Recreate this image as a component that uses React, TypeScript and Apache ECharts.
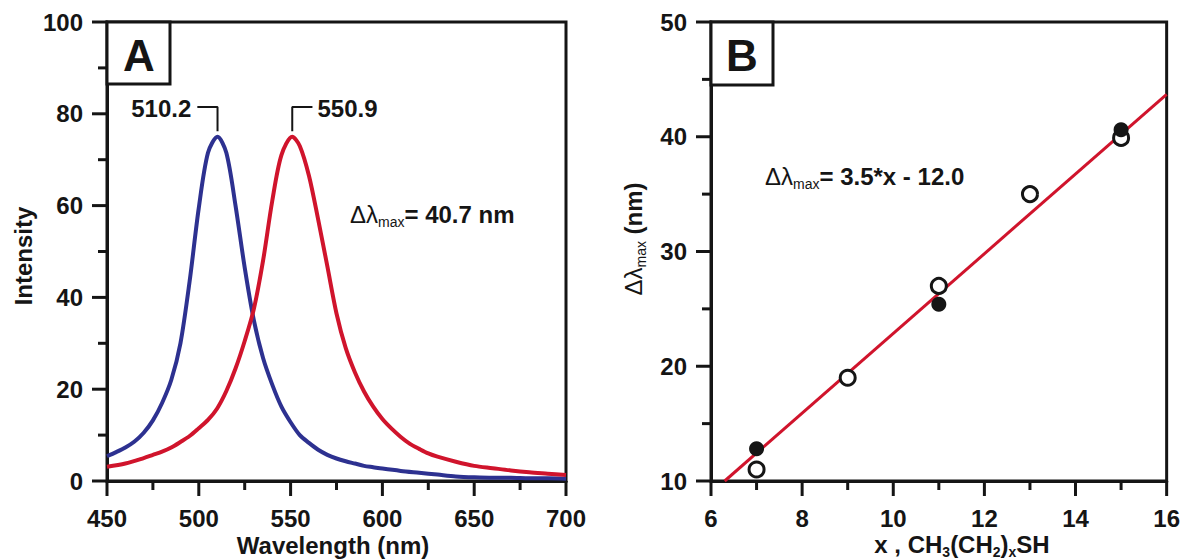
import React, { useEffect, useRef } from "react";
import * as echarts from "echarts";

// Panel A: extinction spectra
const wavelengthBlue = [450, 455, 460, 465, 470, 475, 480, 485, 490, 495, 500, 505, 510.2, 515, 520, 525, 530, 535, 540, 545, 550, 555, 560, 565, 570, 575, 580, 585, 590, 595, 600, 610, 620, 630, 640, 650, 660, 670, 680, 690, 700];
const intensityBlue = [5.4, 6.3, 7.3, 8.6, 10.5, 13.2, 17.0, 22.0, 30.0, 43.5, 59.5, 71.5, 75.0, 71.5, 60.0, 46.5, 35.0, 26.8, 21.0, 16.2, 12.8, 10.0, 8.3, 6.8, 5.7, 4.9, 4.3, 3.8, 3.3, 3.0, 2.7, 2.2, 1.8, 1.4, 1.0, 0.8, 0.7, 0.7, 0.6, 0.6, 0.5];
const wavelengthRed = [450, 460, 470, 475, 480, 485, 490, 495, 500, 505, 510, 515, 520, 525, 530, 535, 540, 545, 550.9, 555, 560, 565, 570, 575, 580, 585, 590, 595, 600, 605, 610, 615, 620, 625, 630, 640, 650, 660, 670, 680, 690, 700];
const intensityRed = [3.1, 3.8, 5.0, 5.7, 6.4, 7.3, 8.5, 9.8, 11.5, 13.3, 15.8, 19.6, 24.5, 30.5, 37.5, 48, 61, 71, 75, 73, 66.5, 57, 46.8, 36.5, 29, 23.7, 19.5, 16.2, 13.5, 11.4, 9.6, 8.1, 7.0, 6.0, 5.3, 4.2, 3.3, 2.8, 2.3, 1.9, 1.6, 1.3];
const peakWavelengths = [510.2, 550.9];
const peakIntensities = [75, 75];
const peakLabels = ["510.2", "550.9"];
const majorTicksAX = [450, 500, 550, 600, 650, 700];
const minorTicksAX = [475, 525, 575, 625, 675];
const majorTicksAY = [0, 20, 40, 60, 80, 100];
const minorTicksAY = [10, 30, 50, 70, 90];

// Panel B: shift vs chain length
const openX = [7, 9, 11, 13, 15];
const openY = [11.0, 19.0, 27.0, 35.0, 39.9];
const filledX = [7, 11, 15];
const filledY = [12.8, 25.4, 40.6];
const fitX = [6.3, 16];
const fitY = [10.0, 43.7];
const majorTicksBX = [6, 8, 10, 12, 14, 16];
const minorTicksBX = [7, 9, 11, 13, 15];
const majorTicksBY = [10, 20, 30, 40, 50];
const minorTicksBY = [15, 25, 35, 45];

const FONT = '"Liberation Sans", Arial, Helvetica, sans-serif';
const INK = "#151515";
const BLUE = "#2d3190";
const RED = "#d0142c";
const MAJOR_LEN = 15;
const MINOR_LEN = 9;

const pairs = (xs: number[], ys: number[]) => xs.map((x, i) => [x, ys[i]]);

const axisCommon = (margin: number, ticks: number[]) => ({
  type: "value",
  min: ticks[0],
  max: ticks[ticks.length - 1],
  interval: ticks[1] - ticks[0],
  axisLine: { show: true, onZero: false, lineStyle: { color: INK, width: 3 } },
  axisTick: { show: false },
  minorTick: { show: false },
  splitLine: { show: false },
  minorSplitLine: { show: false },
  axisLabel: { color: INK, fontFamily: FONT, fontWeight: "bold", fontSize: 24, margin },
});

export default function App() {
  const ref = useRef<HTMLDivElement>(null);
  useEffect(() => {
    const chart = echarts.init(ref.current!, null, { renderer: "svg" });
    const bracketLen = 11;
    const bracketTop = 81.5;
    const bracketGap = 1.2;
    const brackets = peakWavelengths.map((w, i) => {
      const dir = i === 0 ? -1 : 1;
      return [
        [w, peakIntensities[i] + bracketGap],
        [w, bracketTop],
        [w + dir * bracketLen, bracketTop],
      ];
    });
    chart.setOption({
      animation: false,
      backgroundColor: "#fff",
      grid: [
        { left: 107, top: 22, width: 459, height: 459, show: true, borderColor: INK, borderWidth: 3, backgroundColor: "transparent" },
        { left: 711, top: 22, width: 456, height: 459, show: true, borderColor: INK, borderWidth: 3, backgroundColor: "transparent" },
      ],
      xAxis: [
        { ...axisCommon(25, majorTicksAX), gridIndex: 0 },
        { ...axisCommon(25, majorTicksBX), gridIndex: 1 },
      ],
      yAxis: [
        { ...axisCommon(24, majorTicksAY), gridIndex: 0 },
        { ...axisCommon(24, majorTicksBY), gridIndex: 1 },
      ],
      series: [
        {
          type: "line", xAxisIndex: 0, yAxisIndex: 0, data: pairs(wavelengthBlue, intensityBlue),
          smooth: 0.3, showSymbol: false, symbol: "none", lineStyle: { color: BLUE, width: 4 }, z: 3,
        },
        {
          type: "line", xAxisIndex: 0, yAxisIndex: 0, data: pairs(wavelengthRed, intensityRed),
          smooth: 0.3, showSymbol: false, symbol: "none", lineStyle: { color: RED, width: 4 }, z: 3,
        },
        ...brackets.map((b) => ({
          type: "line", xAxisIndex: 0, yAxisIndex: 0, data: b, symbol: "none", silent: true,
          lineStyle: { color: INK, width: 2 }, z: 4,
        })),
        {
          type: "line", xAxisIndex: 1, yAxisIndex: 1, data: pairs(fitX, fitY), symbol: "none",
          lineStyle: { color: RED, width: 3 }, z: 2,
        },
        {
          type: "scatter", xAxisIndex: 1, yAxisIndex: 1, data: pairs(openX, openY), symbol: "circle", symbolSize: 15,
          itemStyle: { color: "#fff", borderColor: INK, borderWidth: 3, opacity: 1 }, z: 3,
        },
        {
          type: "scatter", xAxisIndex: 1, yAxisIndex: 1, data: pairs(filledX, filledY), symbol: "circle", symbolSize: 15,
          itemStyle: { color: INK, opacity: 1 }, z: 4,
        },
      ],
    });

    const px = (g: number, v: number[]) => chart.convertToPixel({ gridIndex: g }, v) as number[];
    const blueEnd = px(0, [peakWavelengths[0] - bracketLen, bracketTop]);
    const redEnd = px(0, [peakWavelengths[1] + bracketLen, bracketTop]);

    // tick marks placed through the axes' own scales
    const tickLines = (g: number, axis: "x" | "y", values: number[], len: number) =>
      values.map((v) => {
        let shape;
        if (axis === "x") {
          const xp = chart.convertToPixel({ xAxisIndex: g }, v) as number;
          const base = g === 0 ? majorTicksAY[0] : majorTicksBY[0];
          const yp = chart.convertToPixel({ yAxisIndex: g }, base) as number;
          shape = { x1: xp, y1: yp, x2: xp, y2: yp + len };
        } else {
          const yp = chart.convertToPixel({ yAxisIndex: g }, v) as number;
          const base = g === 0 ? majorTicksAX[0] : majorTicksBX[0];
          const xp = chart.convertToPixel({ xAxisIndex: g }, base) as number;
          shape = { x1: xp, y1: yp, x2: xp - len, y2: yp };
        }
        return { type: "line", z: 120, shape, style: { stroke: INK, lineWidth: 3 } };
      });

    const txt = (x: number, y: number, text: string, opts: any = {}, el: any = {}) => ({
      type: "text",
      x,
      y,
      z: 200,
      ...el,
      style: {
        text,
        fill: INK,
        fontFamily: FONT,
        fontSize: 24,
        fontWeight: "bold",
        align: "left",
        textAlign: "left",
        verticalAlign: "middle",
        textVerticalAlign: "middle",
        ...opts,
      },
    });

    const richDelta = {
      n: { fontFamily: FONT, fontSize: 24, fontWeight: "normal", lineHeight: 30, fill: INK, color: INK },
      s: { fontFamily: FONT, fontSize: 14, fontWeight: "normal", lineHeight: 12, verticalAlign: "bottom", fill: INK, color: INK },
      b: { fontFamily: FONT, fontSize: 24, fontWeight: "bold", lineHeight: 30, fill: INK, color: INK },
    };
    const richSub = {
      b: { fontFamily: FONT, fontSize: 24, fontWeight: "bold", lineHeight: 30, fill: INK, color: INK },
      s: { fontFamily: FONT, fontSize: 14, fontWeight: "bold", lineHeight: 12, verticalAlign: "bottom", fill: INK, color: INK },
    };

    chart.setOption({
      graphic: [
        ...tickLines(0, "x", majorTicksAX, MAJOR_LEN),
        ...tickLines(0, "x", minorTicksAX, MINOR_LEN),
        ...tickLines(0, "y", majorTicksAY, MAJOR_LEN),
        ...tickLines(0, "y", minorTicksAY, MINOR_LEN),
        ...tickLines(1, "x", majorTicksBX, MAJOR_LEN),
        ...tickLines(1, "x", minorTicksBX, MINOR_LEN),
        ...tickLines(1, "y", majorTicksBY, MAJOR_LEN),
        ...tickLines(1, "y", minorTicksBY, MINOR_LEN),
        { type: "rect", z: 150, shape: { x: 107, y: 22, width: 63, height: 62 }, style: { fill: "#fff", stroke: INK, lineWidth: 3 } },
        txt(139, 55, "A", { fontSize: 44, align: "center", textAlign: "center" }),
        { type: "rect", z: 150, shape: { x: 711, y: 22, width: 62, height: 63 }, style: { fill: "#fff", stroke: INK, lineWidth: 3 } },
        txt(742, 55, "B", { fontSize: 44, align: "center", textAlign: "center" }),
        txt(blueEnd[0] - 6, blueEnd[1] + 2, peakLabels[0], { align: "right", textAlign: "right" }),
        txt(redEnd[0] + 5, redEnd[1] + 2, peakLabels[1]),
        txt(350, 214, "{n|Δλ}{s|max}{b|= 40.7 nm}", { rich: richDelta }),
        txt(765, 176, "{n|Δλ}{s|max}{b|= 3.5*x - 12.0}", { rich: richDelta }),
        txt(333, 545, "Wavelength (nm)", { align: "center", textAlign: "center" }),
        txt(962, 544, "{b|x , CH}{s|3}{b|(CH}{s|2}{b|)}{s|x}{b|SH}", { rich: richSub, align: "center", textAlign: "center" }),
        txt(23, 256, "Intensity", { align: "center", textAlign: "center" }, { rotation: Math.PI / 2 }),
        txt(633, 239, "{n|Δλ}{s|max}{b| (nm)}", { rich: richDelta, align: "center", textAlign: "center" }, { rotation: Math.PI / 2 }),
      ],
    });
    return () => chart.dispose();
  }, []);
  return (
    <div
      ref={ref}
      style={{ position: "fixed", left: 0, top: 0, width: 1183, height: 560, background: "#fff" }}
    />
  );
}
